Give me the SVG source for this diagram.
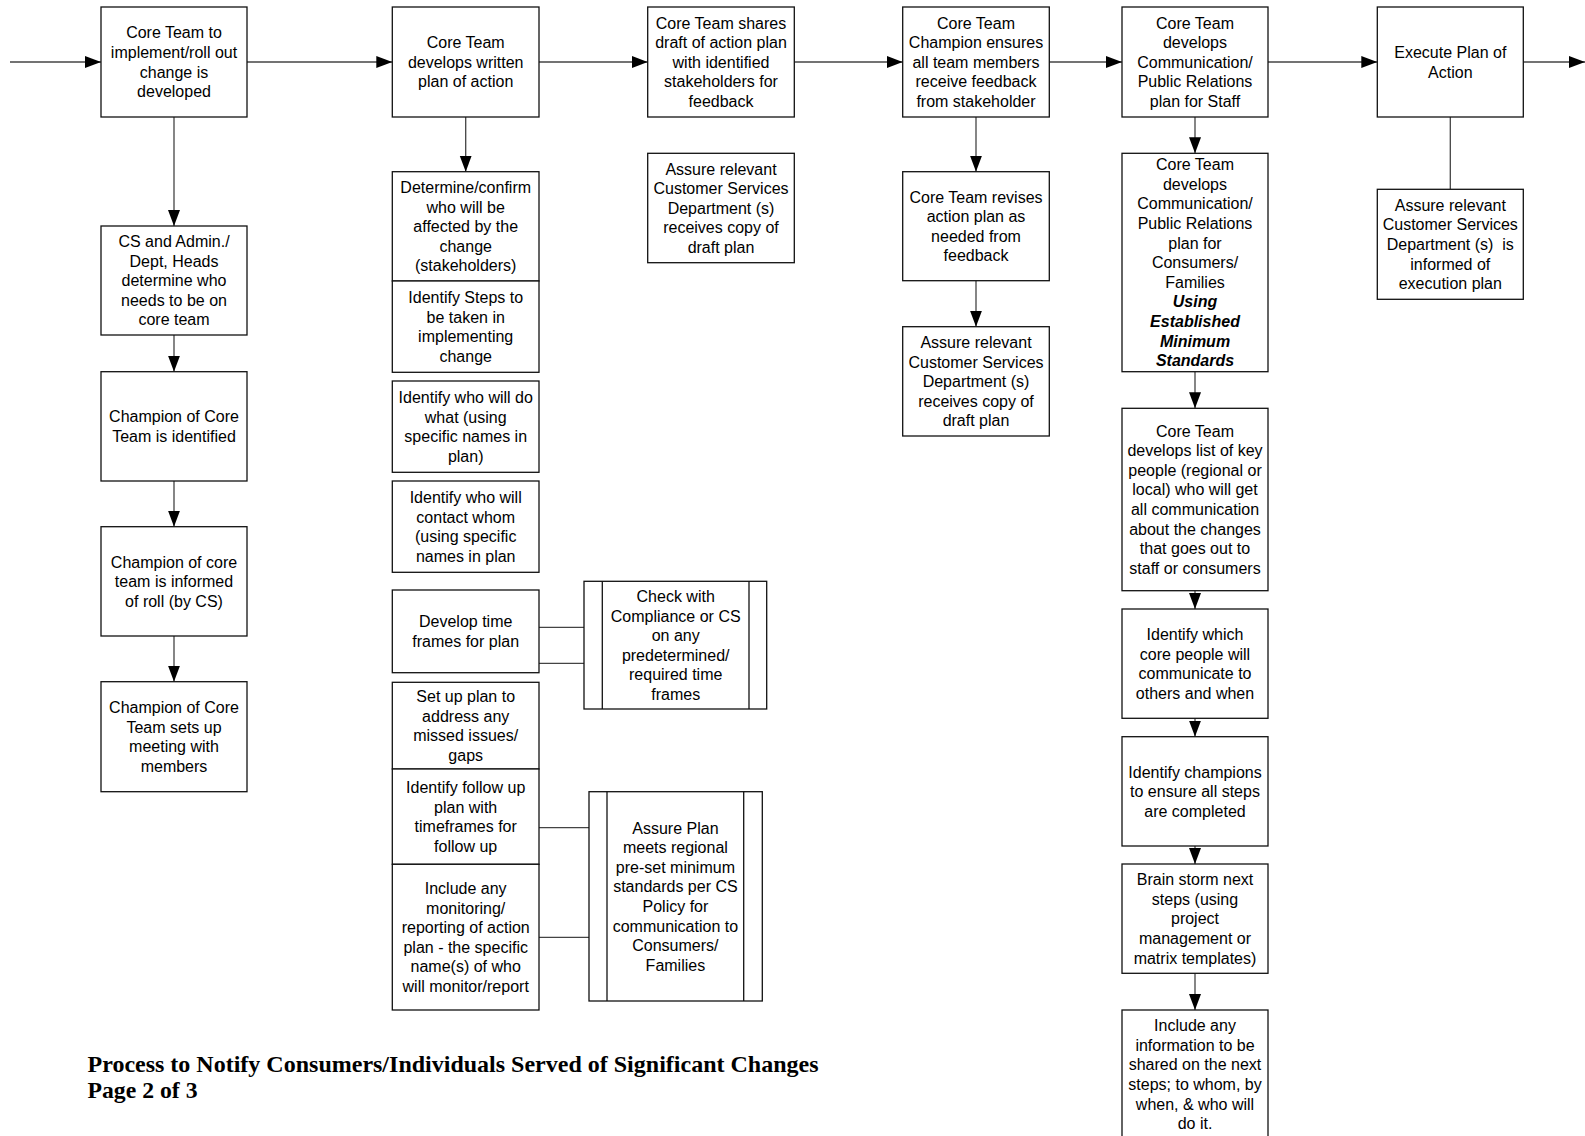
<svg xmlns="http://www.w3.org/2000/svg" width="1585" height="1136" viewBox="0 0 1585 1136">
<style>
.bx{fill:#fff;stroke:#111;stroke-width:1.3}
.in{stroke:#111;stroke-width:1.3;fill:none}
.t{font-family:"Liberation Sans",Arial,sans-serif;font-size:16px;fill:#000;text-anchor:middle}
.bi{font-weight:bold;font-style:italic}
.c{stroke:#444;stroke-width:1.3;fill:none}
.ca{stroke:#444;stroke-width:1.3;fill:none;marker-end:url(#ah)}
.title{font-family:"Liberation Serif","Times New Roman",serif;font-size:24px;font-weight:bold;fill:#000}
</style>
<defs>
<marker id="ah" markerUnits="userSpaceOnUse" markerWidth="17" markerHeight="13" refX="16" refY="6" orient="auto">
<path d="M0,0 L16,6 L0,12 z" fill="#000"/>
</marker>
</defs>
<rect width="1585" height="1136" fill="#fff"/>

<g id="connectors">
<line class="ca" x1="10" y1="62" x2="101" y2="62"/>
<line class="ca" x1="247" y1="62" x2="392.3" y2="62"/>
<line class="ca" x1="539" y1="62" x2="647.7" y2="62"/>
<line class="ca" x1="794.3" y1="62" x2="902.7" y2="62"/>
<line class="ca" x1="1049.3" y1="62" x2="1122" y2="62"/>
<line class="ca" x1="1268" y1="62" x2="1377.3" y2="62"/>
<line class="ca" x1="1523.3" y1="62" x2="1585" y2="62"/>
<line class="ca" x1="174" y1="117" x2="174" y2="226"/>
<line class="ca" x1="174" y1="335" x2="174" y2="371.7"/>
<line class="ca" x1="174" y1="481" x2="174" y2="526.7"/>
<line class="ca" x1="174" y1="636" x2="174" y2="681.7"/>
<line class="ca" x1="465.7" y1="117" x2="465.7" y2="171.7"/>
<line class="ca" x1="976" y1="117" x2="976" y2="171.7"/>
<line class="ca" x1="976" y1="280.7" x2="976" y2="326.7"/>
<line class="ca" x1="1195" y1="117" x2="1195" y2="153.3"/>
<line class="ca" x1="1195" y1="371.7" x2="1195" y2="408.3"/>
<line class="ca" x1="1195" y1="590.7" x2="1195" y2="609"/>
<line class="ca" x1="1195" y1="718.3" x2="1195" y2="736.7"/>
<line class="ca" x1="1195" y1="846" x2="1195" y2="864"/>
<line class="ca" x1="1195" y1="973.3" x2="1195" y2="1010"/>
<line class="c" x1="1450.3" y1="117" x2="1450.3" y2="189.3"/>
<line class="c" x1="539" y1="627.3" x2="584" y2="627.3"/>
<line class="c" x1="539" y1="663.3" x2="584" y2="663.3"/>
<line class="c" x1="539" y1="827.7" x2="589" y2="827.7"/>
<line class="c" x1="539" y1="937.3" x2="589" y2="937.3"/>
</g>

<g id="n1"><rect class="bx" x="101" y="7" width="146" height="110"/>
<text class="t"><tspan x="174" y="38.3">Core Team to</tspan><tspan x="174" dy="19.6">implement/roll out</tspan><tspan x="174" dy="19.6">change is</tspan><tspan x="174" dy="19.6">developed</tspan></text></g>
<g id="n2"><rect class="bx" x="101" y="226" width="146" height="109"/>
<text class="t"><tspan x="174" y="247">CS and Admin./</tspan><tspan x="174" dy="19.6">Dept, Heads</tspan><tspan x="174" dy="19.6">determine who</tspan><tspan x="174" dy="19.6">needs to be on</tspan><tspan x="174" dy="19.6">core team</tspan></text></g>
<g id="n3"><rect class="bx" x="101" y="371.7" width="146" height="109.3"/>
<text class="t"><tspan x="174" y="422.3">Champion of Core</tspan><tspan x="174" dy="19.6">Team is identified</tspan></text></g>
<g id="n4"><rect class="bx" x="101" y="526.7" width="146" height="109.3"/>
<text class="t"><tspan x="174" y="567.5">Champion of core</tspan><tspan x="174" dy="19.6">team is informed</tspan><tspan x="174" dy="19.6">of roll (by CS)</tspan></text></g>
<g id="n5"><rect class="bx" x="101" y="681.7" width="146" height="110"/>
<text class="t"><tspan x="174" y="713">Champion of Core</tspan><tspan x="174" dy="19.6">Team sets up</tspan><tspan x="174" dy="19.6">meeting with</tspan><tspan x="174" dy="19.6">members</tspan></text></g>

<g id="n6"><rect class="bx" x="392.3" y="7" width="146.7" height="110"/>
<text class="t"><tspan x="465.7" y="48.1">Core Team</tspan><tspan x="465.7" dy="19.6">develops written</tspan><tspan x="465.7" dy="19.6">plan of action</tspan></text></g>
<g id="n7"><rect class="bx" x="392.3" y="171.7" width="146.7" height="109.3"/>
<text class="t"><tspan x="465.7" y="192.9">Determine/confirm</tspan><tspan x="465.7" dy="19.6">who will be</tspan><tspan x="465.7" dy="19.6">affected by the</tspan><tspan x="465.7" dy="19.6">change</tspan><tspan x="465.7" dy="19.6">(stakeholders)</tspan></text></g>
<g id="n8"><rect class="bx" x="392.3" y="281" width="146.7" height="91.3"/>
<text class="t"><tspan x="465.7" y="303">Identify Steps to</tspan><tspan x="465.7" dy="19.6">be taken in</tspan><tspan x="465.7" dy="19.6">implementing</tspan><tspan x="465.7" dy="19.6">change</tspan></text></g>
<g id="n9"><rect class="bx" x="392.3" y="381" width="146.7" height="91.3"/>
<text class="t"><tspan x="465.7" y="403">Identify who will do</tspan><tspan x="465.7" dy="19.6">what (using</tspan><tspan x="465.7" dy="19.6">specific names in</tspan><tspan x="465.7" dy="19.6">plan)</tspan></text></g>
<g id="n10"><rect class="bx" x="392.3" y="481" width="146.7" height="91.3"/>
<text class="t"><tspan x="465.7" y="503">Identify who will</tspan><tspan x="465.7" dy="19.6">contact whom</tspan><tspan x="465.7" dy="19.6">(using specific</tspan><tspan x="465.7" dy="19.6">names in plan</tspan></text></g>
<g id="n11"><rect class="bx" x="392.3" y="590" width="146.7" height="82.7"/>
<text class="t"><tspan x="465.7" y="627.3">Develop time</tspan><tspan x="465.7" dy="19.6">frames for plan</tspan></text></g>
<g id="n12"><rect class="bx" x="392.3" y="682.3" width="146.7" height="86.7"/>
<text class="t"><tspan x="465.7" y="702">Set up plan to</tspan><tspan x="465.7" dy="19.6">address any</tspan><tspan x="465.7" dy="19.6">missed issues/</tspan><tspan x="465.7" dy="19.6">gaps</tspan></text></g>
<g id="n13"><rect class="bx" x="392.3" y="769" width="146.7" height="95.3"/>
<text class="t"><tspan x="465.7" y="793">Identify follow up</tspan><tspan x="465.7" dy="19.6">plan with</tspan><tspan x="465.7" dy="19.6">timeframes for</tspan><tspan x="465.7" dy="19.6">follow up</tspan></text></g>
<g id="n14"><rect class="bx" x="392.3" y="864.3" width="146.7" height="145.7"/>
<text class="t"><tspan x="465.7" y="893.9">Include any</tspan><tspan x="465.7" dy="19.6">monitoring/</tspan><tspan x="465.7" dy="19.6">reporting of action</tspan><tspan x="465.7" dy="19.6">plan - the specific</tspan><tspan x="465.7" dy="19.6">name(s) of who</tspan><tspan x="465.7" dy="19.6">will monitor/report</tspan></text></g>

<g id="n15"><rect class="bx" x="584" y="581.3" width="182.7" height="127.7"/>
<line class="in" x1="602.3" y1="581.3" x2="602.3" y2="709"/><line class="in" x1="749" y1="581.3" x2="749" y2="709"/>
<text class="t"><tspan x="675.7" y="601.9">Check with</tspan><tspan x="675.7" dy="19.6">Compliance or CS</tspan><tspan x="675.7" dy="19.6">on any</tspan><tspan x="675.7" dy="19.6">predetermined/</tspan><tspan x="675.7" dy="19.6">required time</tspan><tspan x="675.7" dy="19.6">frames</tspan></text></g>
<g id="n16"><rect class="bx" x="589" y="791.7" width="173.3" height="209.3"/>
<line class="in" x1="607" y1="791.7" x2="607" y2="1001"/><line class="in" x1="743.7" y1="791.7" x2="743.7" y2="1001"/>
<text class="t"><tspan x="675.4" y="833.5">Assure Plan</tspan><tspan x="675.4" dy="19.6">meets regional</tspan><tspan x="675.4" dy="19.6">pre-set minimum</tspan><tspan x="675.4" dy="19.6">standards per CS</tspan><tspan x="675.4" dy="19.6">Policy for</tspan><tspan x="675.4" dy="19.6">communication to</tspan><tspan x="675.4" dy="19.6">Consumers/</tspan><tspan x="675.4" dy="19.6">Families</tspan></text></g>

<g id="n17"><rect class="bx" x="647.7" y="7" width="146.6" height="110"/>
<text class="t"><tspan x="721" y="28.5">Core Team shares</tspan><tspan x="721" dy="19.6">draft of action plan</tspan><tspan x="721" dy="19.6">with identified</tspan><tspan x="721" dy="19.6">stakeholders for</tspan><tspan x="721" dy="19.6">feedback</tspan></text></g>
<g id="n18"><rect class="bx" x="647.7" y="153.3" width="146.6" height="109.4"/>
<text class="t"><tspan x="721" y="174.5">Assure relevant</tspan><tspan x="721" dy="19.6">Customer Services</tspan><tspan x="721" dy="19.6">Department (s)</tspan><tspan x="721" dy="19.6">receives copy of</tspan><tspan x="721" dy="19.6">draft plan</tspan></text></g>

<g id="n19"><rect class="bx" x="902.7" y="7" width="146.6" height="110"/>
<text class="t"><tspan x="976" y="28.5">Core Team</tspan><tspan x="976" dy="19.6">Champion ensures</tspan><tspan x="976" dy="19.6">all team members</tspan><tspan x="976" dy="19.6">receive feedback</tspan><tspan x="976" dy="19.6">from stakeholder</tspan></text></g>
<g id="n20"><rect class="bx" x="902.7" y="171.7" width="146.6" height="109"/>
<text class="t"><tspan x="976" y="202.5">Core Team revises</tspan><tspan x="976" dy="19.6">action plan as</tspan><tspan x="976" dy="19.6">needed from</tspan><tspan x="976" dy="19.6">feedback</tspan></text></g>
<g id="n21"><rect class="bx" x="902.7" y="326.7" width="146.6" height="109.3"/>
<text class="t"><tspan x="976" y="347.9">Assure relevant</tspan><tspan x="976" dy="19.6">Customer Services</tspan><tspan x="976" dy="19.6">Department (s)</tspan><tspan x="976" dy="19.6">receives copy of</tspan><tspan x="976" dy="19.6">draft plan</tspan></text></g>

<g id="n22"><rect class="bx" x="1122" y="7" width="146" height="110"/>
<text class="t"><tspan x="1195" y="28.5">Core Team</tspan><tspan x="1195" dy="19.6">develops</tspan><tspan x="1195" dy="19.6">Communication/</tspan><tspan x="1195" dy="19.6">Public Relations</tspan><tspan x="1195" dy="19.6">plan for Staff</tspan></text></g>
<g id="n23"><rect class="bx" x="1122" y="153.3" width="146" height="218.4"/>
<text class="t"><tspan x="1195" y="170.2">Core Team</tspan><tspan x="1195" dy="19.6">develops</tspan><tspan x="1195" dy="19.6">Communication/</tspan><tspan x="1195" dy="19.6">Public Relations</tspan><tspan x="1195" dy="19.6">plan for</tspan><tspan x="1195" dy="19.6">Consumers/</tspan><tspan x="1195" dy="19.6">Families</tspan><tspan class="bi" x="1195" dy="19.6">Using</tspan><tspan class="bi" x="1195" dy="19.6">Established</tspan><tspan class="bi" x="1195" dy="19.6">Minimum</tspan><tspan class="bi" x="1195" dy="19.6">Standards</tspan></text></g>
<g id="n24"><rect class="bx" x="1122" y="408.3" width="146" height="182.4"/>
<text class="t"><tspan x="1195" y="436.6">Core Team</tspan><tspan x="1195" dy="19.6">develops list of key</tspan><tspan x="1195" dy="19.6">people (regional or</tspan><tspan x="1195" dy="19.6">local) who will get</tspan><tspan x="1195" dy="19.6">all communication</tspan><tspan x="1195" dy="19.6">about the changes</tspan><tspan x="1195" dy="19.6">that goes out to</tspan><tspan x="1195" dy="19.6">staff or consumers</tspan></text></g>
<g id="n25"><rect class="bx" x="1122" y="609" width="146" height="109.3"/>
<text class="t"><tspan x="1195" y="640">Identify which</tspan><tspan x="1195" dy="19.6">core people will</tspan><tspan x="1195" dy="19.6">communicate to</tspan><tspan x="1195" dy="19.6">others and when</tspan></text></g>
<g id="n26"><rect class="bx" x="1122" y="736.7" width="146" height="109.3"/>
<text class="t"><tspan x="1195" y="777.5">Identify champions</tspan><tspan x="1195" dy="19.6">to ensure all steps</tspan><tspan x="1195" dy="19.6">are completed</tspan></text></g>
<g id="n27"><rect class="bx" x="1122" y="864" width="146" height="109.3"/>
<text class="t"><tspan x="1195" y="885.2">Brain storm next</tspan><tspan x="1195" dy="19.6">steps (using</tspan><tspan x="1195" dy="19.6">project</tspan><tspan x="1195" dy="19.6">management or</tspan><tspan x="1195" dy="19.6">matrix templates)</tspan></text></g>
<g id="n28"><rect class="bx" x="1122" y="1010" width="146" height="129"/>
<text class="t"><tspan x="1195" y="1031.2">Include any</tspan><tspan x="1195" dy="19.6">information to be</tspan><tspan x="1195" dy="19.6">shared on the next</tspan><tspan x="1195" dy="19.6">steps; to whom, by</tspan><tspan x="1195" dy="19.6">when, &amp; who will</tspan><tspan x="1195" dy="19.6">do it.</tspan></text></g>

<g id="n29"><rect class="bx" x="1377.3" y="7" width="146" height="110"/>
<text class="t"><tspan x="1450.3" y="57.9">Execute Plan of</tspan><tspan x="1450.3" dy="19.6">Action</tspan></text></g>
<g id="n30"><rect class="bx" x="1377.3" y="189.3" width="146" height="110"/>
<text class="t" xml:space="preserve"><tspan x="1450.3" y="210.8">Assure relevant</tspan><tspan x="1450.3" dy="19.6">Customer Services</tspan><tspan x="1450.3" dy="19.6">Department (s)  is</tspan><tspan x="1450.3" dy="19.6">informed of</tspan><tspan x="1450.3" dy="19.6">execution plan</tspan></text></g>

<g id="title">
<text class="title" x="87.5" y="1071.5" textLength="731" lengthAdjust="spacingAndGlyphs">Process to Notify Consumers/Individuals Served of Significant Changes</text>
<text class="title" x="87.5" y="1097.5" textLength="110" lengthAdjust="spacingAndGlyphs">Page 2 of 3</text>
</g>
</svg>
